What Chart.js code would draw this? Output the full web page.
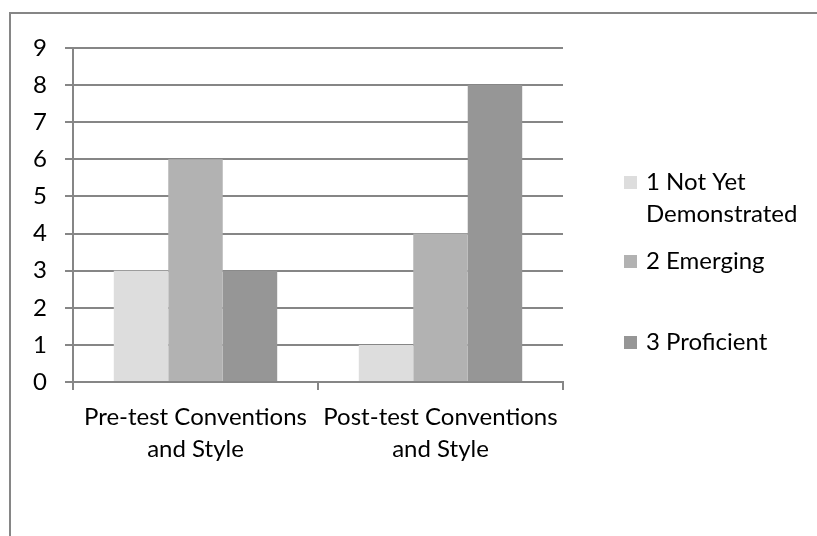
<!DOCTYPE html>
<html>
<head>
<meta charset="utf-8">
<script src="https://cdn.jsdelivr.net/npm/chart.js@4/dist/chart.umd.min.js"></script>
<style>
  html, body { margin: 0; padding: 0; background: #ffffff; }
  #wrap { width: 817px; height: 536px; position: relative; }
</style>
</head>
<body>
<div id="wrap"><canvas id="chart" width="817" height="536"></canvas></div>
<script>
// Rubric scores: number of students at each level, before and after
const categories = [["Pre-test Conventions", "and Style"], ["Post-test Conventions", "and Style"]];
const seriesNames = [["1 Not Yet", "Demonstrated"], ["2 Emerging"], ["3 Proficient"]];
const notYetDemonstrated = [3, 1];
const emerging = [6, 4];
const proficient = [3, 8];
const yTicks = [0, 1, 2, 3, 4, 5, 6, 7, 8, 9];

const seriesColors = ["#dddddd", "#b2b2b2", "#969696"];
const FONT = "Lato, 'Open Sans', sans-serif";
const FONT_SIZE = 24;

// Outer frame around the whole chart
const framePlugin = {
  id: 'frame',
  beforeDraw(chart) {
    const ctx = chart.ctx;
    ctx.save();
    ctx.fillStyle = '#ffffff';
    ctx.fillRect(0, 0, chart.width, chart.height);
    ctx.strokeStyle = '#868686';
    ctx.lineWidth = 2;
    ctx.strokeRect(10, 13, chart.width + 20, chart.height + 20);
    ctx.restore();
  }
};

// Legend on the right, with wrapped labels
const sideLegend = {
  id: 'sideLegend',
  afterDraw(chart) {
    const ctx = chart.ctx;
    const rows = [182, 261, 342];
    ctx.save();
    ctx.font = FONT_SIZE + 'px ' + FONT;
    ctx.textBaseline = 'middle';
    ctx.textAlign = 'left';
    chart.data.datasets.forEach((ds, i) => {
      const y = rows[i];
      ctx.fillStyle = ds.backgroundColor;
      ctx.fillRect(624, y - 6, 13, 13);
      ctx.fillStyle = '#000000';
      seriesNames[i].forEach((line, j) => {
        ctx.fillText(line, 646, y + j * 32);
      });
    });
    ctx.restore();
  }
};

new Chart(document.getElementById('chart'), {
  type: 'bar',
  data: {
    labels: categories,
    datasets: [
      { label: seriesNames[0].join(' '), data: notYetDemonstrated, backgroundColor: seriesColors[0] },
      { label: seriesNames[1].join(' '), data: emerging, backgroundColor: seriesColors[1] },
      { label: seriesNames[2].join(' '), data: proficient, backgroundColor: seriesColors[2] }
    ]
  },
  options: {
    responsive: false,
    animation: false,
    layout: { padding: { left: 0, top: 48, right: 254, bottom: 54 } },
    datasets: { bar: { categoryPercentage: 0.667, barPercentage: 1.0, borderWidth: 0 } },
    plugins: { legend: { display: false }, tooltip: { enabled: false } },
    scales: {
      x: {
        grid: { drawOnChartArea: false, drawTicks: true, tickLength: 8, color: '#868686', lineWidth: 2 },
        border: { color: '#868686', width: 2 },
        ticks: { color: '#000000', font: { family: FONT, size: FONT_SIZE, lineHeight: 1.3 }, padding: 12, maxRotation: 0, autoSkip: false },
        afterFit(scale) { scale.height = 100; }
      },
      y: {
        min: 0,
        max: 9,
        afterBuildTicks(scale) { scale.ticks = yTicks.map(v => ({ value: v })); },
        grid: { color: '#868686', lineWidth: 2, tickLength: 8 },
        border: { color: '#868686', width: 2 },
        ticks: { color: '#000000', font: { family: FONT, size: FONT_SIZE }, padding: 18 },
        afterFit(scale) { scale.width = 73; }
      }
    }
  },
  plugins: [framePlugin, sideLegend]
});
</script>
</body>
</html>
